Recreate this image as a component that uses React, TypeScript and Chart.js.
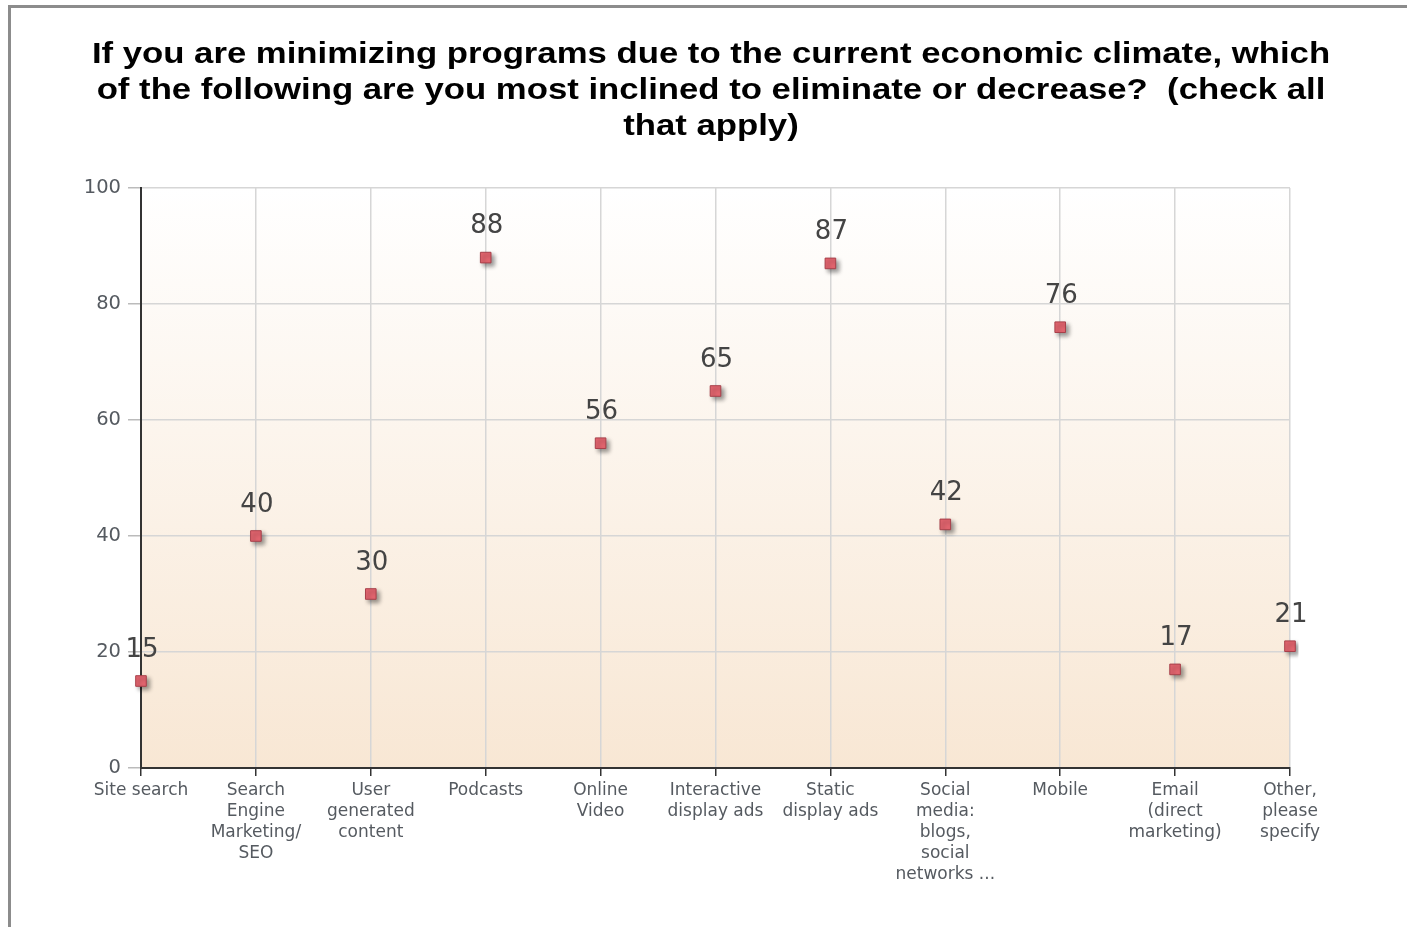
import React, { useEffect, useRef } from "react";
import { Chart, registerables } from "chart.js";

Chart.register(...registerables);

const TITLE_LINES = [
  "If you are minimizing programs due to the current economic climate, which",
  "of the following are you most inclined to eliminate or decrease?  (check all",
  "that apply)",
];

const categories: string[][] = [
  ["Site search"],
  ["Search", "Engine", "Marketing/", "SEO"],
  ["User", "generated", "content"],
  ["Podcasts"],
  ["Online", "Video"],
  ["Interactive", "display ads"],
  ["Static", "display ads"],
  ["Social", "media:", "blogs,", "social", "networks ..."],
  ["Mobile"],
  ["Email", "(direct", "marketing)"],
  ["Other,", "please", "specify"],
];

const values = [15, 40, 30, 88, 56, 65, 87, 42, 76, 17, 21];

const yMin = 0;
const yMax = 100;
const yStep = 20;

const bgPlugin = {
  id: "bgGradient",
  beforeDraw(chart: any) {
    const { ctx, chartArea } = chart;
    if (!chartArea) return;
    const g = ctx.createLinearGradient(0, chartArea.top, 0, chartArea.bottom);
    g.addColorStop(0, "#ffffff");
    g.addColorStop(1, "#f8e7d4");
    ctx.save();
    ctx.fillStyle = g;
    ctx.fillRect(chartArea.left, chartArea.top, chartArea.right - chartArea.left, chartArea.bottom - chartArea.top);
    ctx.restore();
  },
};

const shadowPlugin = {
  id: "pointShadow",
  beforeDatasetsDraw(chart: any) {
    const ctx = chart.ctx;
    ctx.save();
    ctx.shadowColor = "rgba(0,0,0,0.4)";
    ctx.shadowOffsetX = 3;
    ctx.shadowOffsetY = 3;
    ctx.shadowBlur = 4;
  },
  afterDatasetsDraw(chart: any) {
    chart.ctx.restore();
  },
};

const labelPlugin = {
  id: "valueLabels",
  afterDatasetsDraw(chart: any) {
    const ctx = chart.ctx;
    const meta = chart.getDatasetMeta(0);
    ctx.save();
    ctx.font = "26px 'DejaVu Sans'";
    ctx.fillStyle = "#444";
    ctx.textAlign = "center";
    ctx.textBaseline = "middle";
    meta.data.forEach((pt: any, i: number) => {
      ctx.fillText(String(values[i]), pt.x + 1, pt.y - 31);
    });
    ctx.restore();
  },
};

export default function App() {
  const ref = useRef<HTMLCanvasElement>(null);

  useEffect(() => {
    if (!ref.current) return;
    const chart = new Chart(ref.current, {
      type: "line",
      data: {
        labels: categories,
        datasets: [
          {
            data: values,
            showLine: false,
            pointStyle: "rect",
            pointRadius: 7.5,
            pointBorderWidth: 1,
            pointBackgroundColor: "#e3656f",
            pointBorderColor: "#a8404a",
          },
        ],
      },
      options: {
        responsive: false,
        animation: false,
        layout: { padding: { left: 0, right: 117, top: 188, bottom: 0 } },
        plugins: {
          legend: { display: false },
          tooltip: { enabled: false },
          title: { display: false },
        },
        scales: {
          x: {
            type: "category",
            offset: false,
            grid: { color: "#d6d6d6", lineWidth: 1.5, tickColor: "#333", tickLength: 8, drawOnChartArea: true },
            border: { color: "#333", width: 2 },
            ticks: {
              autoSkip: false,
              maxRotation: 0,
              minRotation: 0,
              color: "#555a60",
              padding: 4,
              font: { family: "'DejaVu Sans'", size: 17, lineHeight: 1.23 },
            },
            afterFit(scale: any) {
              scale.height = 927 - 768;
            },
          },
          y: {
            min: yMin,
            max: yMax,
            grid: { color: "#d6d6d6", lineWidth: 1.5, tickColor: "#bbb", tickLength: 13 },
            border: { color: "#333", width: 2 },
            ticks: {
              stepSize: yStep,
              color: "#555a60",
              padding: 7,
              font: { family: "'DejaVu Sans'", size: 19.5 },
            },
            afterFit(scale: any) {
              scale.width = 141;
            },
          },
        },
      },
      plugins: [bgPlugin, shadowPlugin, labelPlugin],
    } as any);
    return () => chart.destroy();
  }, []);

  return (
    <div style={{ position: "absolute", left: 0, top: 0, width: 1407, height: 927, overflow: "hidden", background: "#fff" }}>
      <div
        style={{
          position: "absolute",
          left: 8,
          top: 5,
          width: 1500,
          height: 1000,
          borderTop: "3px solid #8c8c8c",
          borderLeft: "3px solid #8c8c8c",
        }}
      />
      <canvas ref={ref} width={1407} height={927} style={{ position: "absolute", left: 0, top: 0 }} />
      <div
        style={{
          position: "absolute",
          left: 0,
          top: 35,
          width: 1422,
          textAlign: "center",
          fontFamily: "'Liberation Sans', Arial, sans-serif",
          fontWeight: "bold",
          fontSize: 30,
          lineHeight: "36px",
          color: "#000",
          transform: "scaleX(1.157)",
          transformOrigin: "711px 0",
        }}
      >
        {TITLE_LINES.map((l, i) => (
          <div key={i} style={{ whiteSpace: "pre" }}>{l}</div>
        ))}
      </div>
    </div>
  );
}
